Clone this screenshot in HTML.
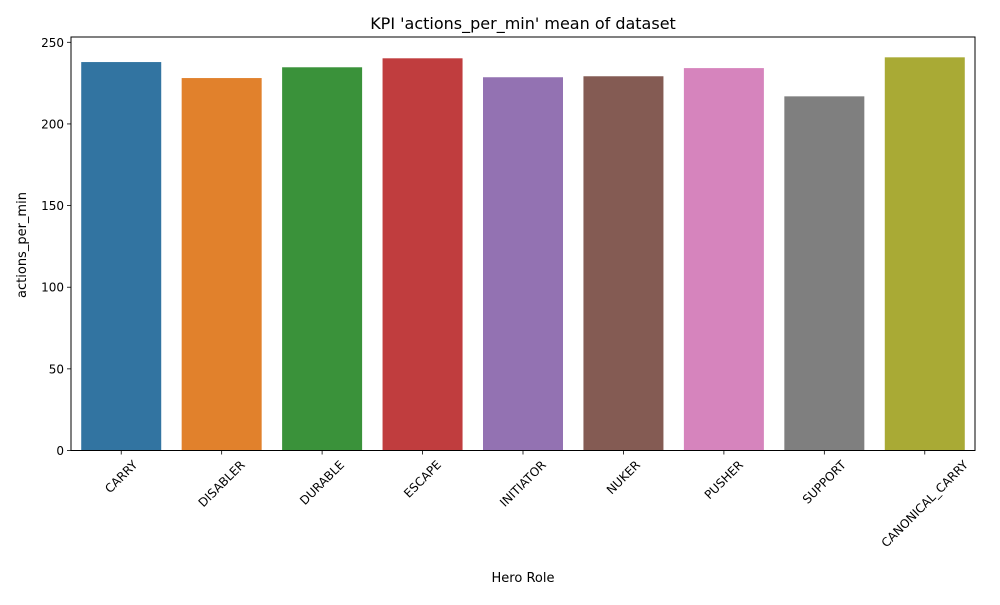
<!DOCTYPE html>
<html><head><meta charset="utf-8"><style>
body{margin:0;background:#fff;font-family:"Liberation Sans","DejaVu Sans",sans-serif;}
</style></head><body>
<svg id="chart" width="1000" height="600" xmlns="http://www.w3.org/2000/svg" font-family="DejaVu Sans, Liberation Sans, sans-serif">
<rect width="1000" height="600" fill="#fff"/>
<text x="523" y="29" font-size="16" text-anchor="middle">KPI 'actions_per_min' mean of dataset</text>
<text x="523" y="582" font-size="13" text-anchor="middle">Hero Role</text>
<text transform="translate(26,245) rotate(-90)" font-size="13" text-anchor="middle">actions_per_min</text>
<g id="bars"></g><g id="axes"></g>
</svg>
<script>
const categories=["CARRY","DISABLER","DURABLE","ESCAPE","INITIATOR","NUKER","PUSHER","SUPPORT","CANONICAL_CARRY"];
const values=[237.9,228.1,234.7,240.2,228.6,229.2,234.2,216.9,240.8];
const yTicks=[0,50,100,150,200,250];
const colors=["#3274a1","#e1812c","#3a923a","#c03d3e","#9372b2","#845b53","#d684bd","#7f7f7f","#a9aa35"];
const L=71,R=975,T=37,B=450.5;
const y=v=>B-v*(B-42.3)/250;
const step=(R-L)/categories.length;
const x=i=>L+step*i+step/2;
const NS="http://www.w3.org/2000/svg";
const bars=document.getElementById('bars'),axes=document.getElementById('axes');
function mk(tag,attrs,parent){const e=document.createElementNS(NS,tag);for(const k in attrs)e.setAttribute(k,attrs[k]);parent.appendChild(e);return e;}
categories.forEach((c,i)=>{
  const r=mk('rect',{x:x(i)-40,y:y(values[i]),width:80,height:B-y(values[i]),fill:colors[i]},bars);
  
  
  mk('line',{x1:x(i),x2:x(i),y1:B,y2:B+4,stroke:'#000','stroke-width':0.8},axes);
  const t=mk('text',{'font-size':12,'text-anchor':'middle'},axes);
  t.textContent=c;
  const len=t.getComputedTextLength();
  const half=(len+12)*0.7071/2;
  const cy=B+8+half;
  t.setAttribute('transform',`translate(${x(i)},${cy}) rotate(-45)`);
  t.setAttribute('y',4);
  
  
});
yTicks.forEach(v=>{
  mk('line',{x1:L-4,x2:L,y1:y(v),y2:y(v),stroke:'#000','stroke-width':0.8},axes);
  const t=mk('text',{x:L-7,y:y(v)+4.5,'font-size':12,'text-anchor':'end'},axes);
  t.textContent=v;
  
  
});
const f=mk('rect',{x:L,y:T,width:R-L,height:B-T,fill:'none',stroke:'#000','stroke-width':1},axes);


</script>
</body></html>
